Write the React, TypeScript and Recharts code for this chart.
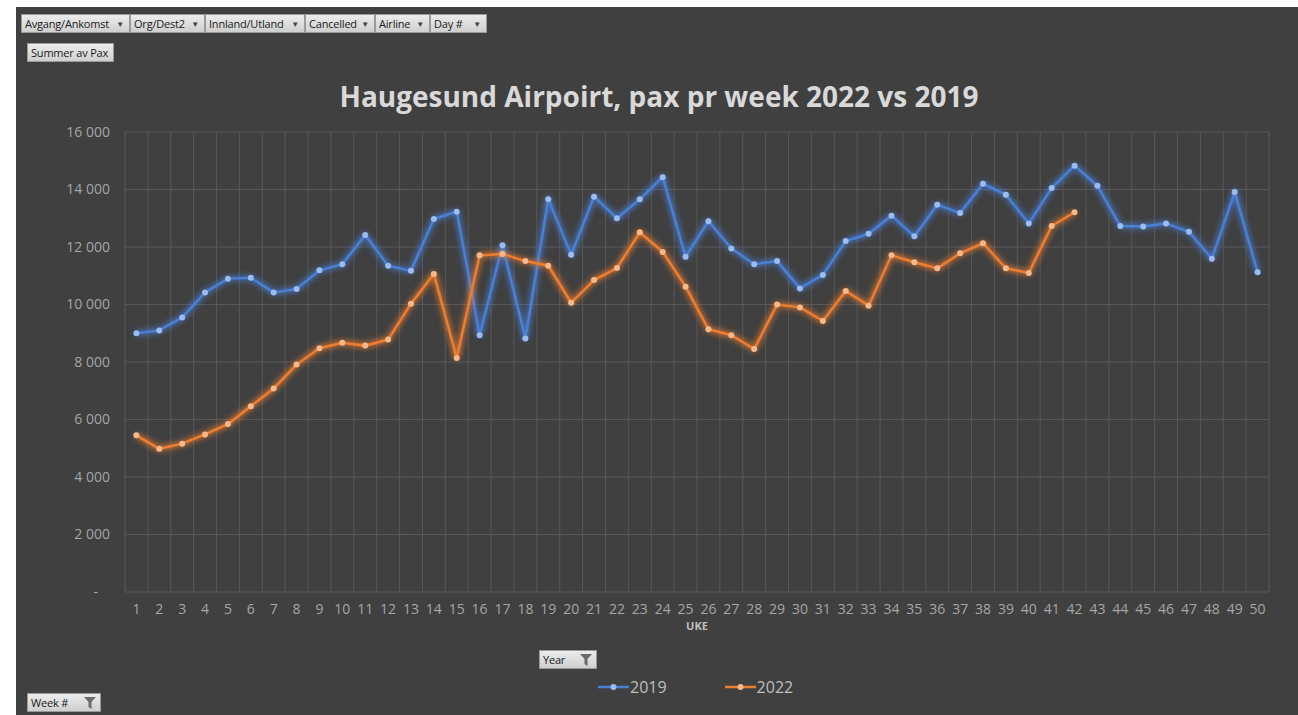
import { LineChart, Line, XAxis, YAxis, CartesianGrid, Legend } from 'recharts';

const weeks = Array.from({ length: 50 }, (_, i) => String(i + 1));

const pax2019 = [
  9000, 9100, 9550, 10420, 10900, 10930, 10420, 10540, 11190, 11400,
  12420, 11350, 11170, 12970, 13230, 8930, 12060, 8820, 13660, 11730,
  13750, 13000, 13660, 14430, 11660, 12900, 11950, 11400, 11510, 10560,
  11030, 12210, 12460, 13090, 12370, 13470, 13180, 14200, 13820, 12820,
  14050, 14830, 14130, 12730, 12710, 12820, 12530, 11590, 13910, 11120,
];

const pax2022 = [
  5450, 4980, 5160, 5480, 5840, 6460, 7080, 7910, 8480, 8670,
  8570, 8780, 10030, 11060, 8140, 11710, 11760, 11510, 11350, 10060,
  10850, 11270, 12510, 11830, 10620, 9140, 8930, 8450, 10000, 9900,
  9430, 10470, 9960, 11710, 11470, 11260, 11780, 12130, 11260, 11100,
  12730, 13210,
];

const yTicks = [0, 2000, 4000, 6000, 8000, 10000, 12000, 14000, 16000];

const topFilters = [
  { label: 'Avgang/Ankomst', w: 109 },
  { label: 'Org/Dest2', w: 75 },
  { label: 'Innland/Utland', w: 100 },
  { label: 'Cancelled', w: 70 },
  { label: 'Airline', w: 55 },
  { label: 'Day #', w: 57 },
];

const data = weeks.map((w, i) => ({
  week: w,
  y2019: pax2019[i],
  y2022: pax2022[i] ?? null,
}));

const BLUE = '#4a7fd6';
const ORANGE = '#ed7d31';
const font = '"Open Sans", "Noto Sans", sans-serif';

const btn: React.CSSProperties = {
  position: 'absolute',
  height: 19,
  boxSizing: 'border-box',
  background: 'linear-gradient(#ececec, #cfcfcf)',
  border: '1px solid #9a9a9a',
  color: '#1a1a1a',
  fontFamily: font,
  fontSize: 11,
  lineHeight: '17px',
  paddingLeft: 3,
  whiteSpace: 'nowrap',
  letterSpacing: -0.2,
};

function Funnel() {
  return (
    <svg width="12" height="12" viewBox="0 0 12 12" style={{ position: 'absolute', right: 4, top: 3 }}>
      <polygon points="0,0 12,0 7.5,5 7.5,12 4.5,10 4.5,5" fill="#6b6b6b" />
    </svg>
  );
}

function fmt(v: number) {
  return String(v).replace(/\B(?=(\d{3})+(?!\d))/g, ' ');
}

function YTick(props: any) {
  const { x, y, payload } = props;
  const zero = payload.value === 0;
  return (
    <text x={zero ? x - 12 : x} y={y} dy="0.355em" textAnchor="end" fill="#a6a6a6" fontSize={14} fontFamily={font}>
      {zero ? '-' : fmt(payload.value)}
    </text>
  );
}

function LegendContent() {
  const items = [
    { name: '2019', color: BLUE, dot: '#9bbcf0' },
    { name: '2022', color: ORANGE, dot: '#f7b98c' },
  ];
  return (
    <div style={{ display: 'flex', gap: 58, fontFamily: font, fontSize: 16, color: '#bfbfbf' }}>
      {items.map((it) => (
        <div key={it.name} style={{ display: 'flex', alignItems: 'center' }}>
          <svg width="31" height="10">
            <line x1="0" y1="5" x2="31" y2="5" stroke={it.color} strokeWidth="2.5" />
            <circle cx="15.5" cy="5" r="3" fill={it.dot} />
          </svg>
          <span style={{ marginLeft: 1 }}>{it.name}</span>
        </div>
      ))}
    </div>
  );
}

export default function App() {
  let left = 21;
  return (
    <div style={{ position: 'fixed', left: 0, top: 0, width: 1298, height: 715, background: '#ffffff', overflow: 'hidden' }}>
      <style>{`
        .glow-blue { filter: drop-shadow(0 0 3px rgba(74,127,214,0.9)) drop-shadow(0 0 2px rgba(74,127,214,0.6)); }
        .glow-orange { filter: drop-shadow(0 0 3px rgba(237,125,49,0.9)) drop-shadow(0 0 2px rgba(237,125,49,0.6)); }
      `}</style>
      <div style={{ position: 'absolute', left: 16, top: 7, width: 1282, height: 708, background: '#404040' }}>
        <LineChart width={1282} height={708} data={data} margin={{ top: 125, right: 29, bottom: 83, left: 0 }}>
          <CartesianGrid
            stroke="#585858"
            strokeWidth={1}
            verticalCoordinatesGenerator={({ offset }: any) =>
              Array.from({ length: weeks.length + 1 }, (_, i) => offset.left + (i * offset.width) / weeks.length)
            }
          />
          <XAxis
            dataKey="week"
            interval={0}
            padding={{ left: 11.4, right: 11.4 }}
            axisLine={false}
            tickLine={false}
            tickSize={0}
            tickMargin={12}
            height={40}
            tick={{ fill: '#a6a6a6', fontSize: 14, fontFamily: font }}
            label={{ value: 'UKE', position: 'insideBottom', offset: 2, fill: '#bfbfbf', fontSize: 11, fontWeight: 700, fontFamily: font }}
          />
          <YAxis
            width={109}
            domain={[0, 16000]}
            ticks={yTicks}
            axisLine={false}
            tickLine={false}
            tickSize={0}
            tickMargin={15}
            tick={<YTick />}
          />
          <Legend
            layout="horizontal"
            verticalAlign="middle"
            align="center"
            wrapperStyle={{ left: 582, top: 669, width: 230, height: 22 }}
            content={<LegendContent />}
          />
          <Line
            className="glow-blue"
            dataKey="y2019"
            name="2019"
            stroke={BLUE}
            strokeWidth={2.5}
            dot={{ r: 3, fill: '#9bbcf0', stroke: 'none' }}
            activeDot={false}
            isAnimationActive={false}
          />
          <Line
            className="glow-orange"
            dataKey="y2022"
            name="2022"
            stroke={ORANGE}
            strokeWidth={2.5}
            dot={{ r: 3, fill: '#f7b98c', stroke: 'none' }}
            activeDot={false}
            isAnimationActive={false}
          />
        </LineChart>
      </div>

      <div
        style={{
          position: 'absolute',
          left: 16,
          width: 1286,
          top: 77,
          textAlign: 'center',
          fontFamily: font,
          fontSize: 28,
          fontWeight: 700,
          color: '#d9d9d9',
        }}
      >
        Haugesund Airpoirt, pax pr week 2022 vs 2019
      </div>

      {topFilters.map((f) => {
        const x = left;
        left += f.w;
        return (
          <div key={f.label} style={{ ...btn, left: x, top: 14, width: f.w }}>
            {f.label}
            <span style={{ position: 'absolute', right: 5, top: 0, fontSize: 8, color: '#444' }}>▼</span>
          </div>
        );
      })}
      <div style={{ ...btn, left: 27, top: 43, width: 87 }}>Summer av Pax</div>
      <div style={{ ...btn, left: 539, top: 650, width: 58 }}>
        Year
        <Funnel />
      </div>
      <div style={{ ...btn, left: 27, top: 693, width: 74 }}>
        Week #
        <Funnel />
      </div>
    </div>
  );
}
